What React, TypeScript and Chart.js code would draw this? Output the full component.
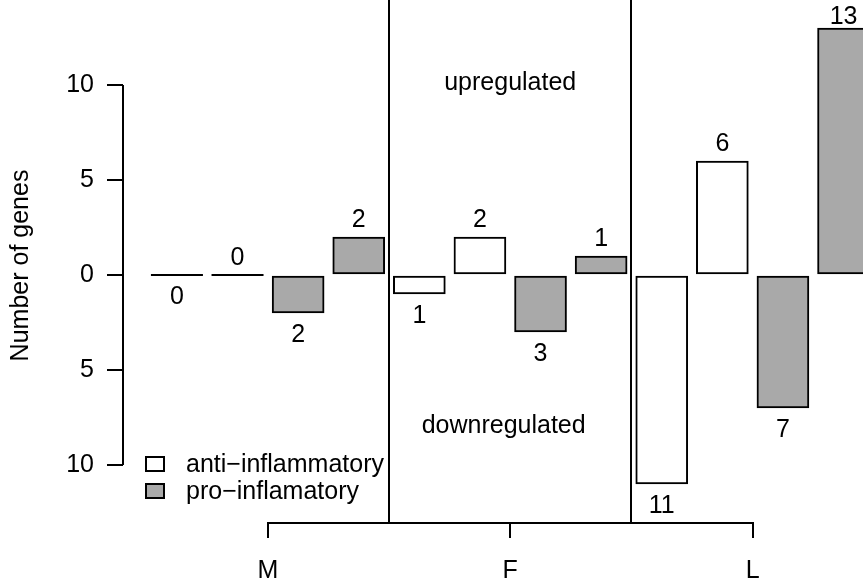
import React, { useEffect, useRef } from 'react';
import { Chart, registerables } from 'chart.js';

Chart.register(...registerables);

// ---- data ----
const groups = ['M', 'F', 'L'];
const antiDown = [0, 1, 11];
const antiUp = [0, 2, 6];
const proDown = [2, 3, 7];
const proUp = [2, 1, 13];
const yTickValues = [-10, -5, 0, 5, 10];
const legendLabels = ['anti\u2212inflammatory', 'pro\u2212inflamatory'];
const regionLabels = ['upregulated', 'downregulated'];
const yTitle = 'Number of genes';

// ---- layout helpers (R barplot coordinates: width 1, space 0.2) ----
const barPos = (g: number, j: number) => 0.7 + 1.2 * (g * 4 + j);
const groupCenter = (g: number) => (barPos(g, 0) + barPos(g, 3)) / 2;
const dividers = [1, 2].map((g) => (barPos(g - 1, 3) + barPos(g, 0)) / 2);

const FONT = '"Liberation Sans", Arial, Helvetica, sans-serif';
const FS = 25;
const WHITE = '#ffffff';
const GRAY = '#a9a9a9';

type Pt = { x: number; y: number; dir: 'up' | 'down'; lab: number };

const makeData = (down: number[], up: number[], j0: number): Pt[] => {
  const out: Pt[] = [];
  groups.forEach((_, g) => {
    out.push({ x: barPos(g, j0), y: -down[g], dir: 'down', lab: down[g] });
    out.push({ x: barPos(g, j0 + 1), y: up[g], dir: 'up', lab: up[g] });
  });
  return out;
};

const decorPlugin = {
  id: 'decor',
  afterDatasetsDraw(chart: any) {
    const { ctx, chartArea } = chart;
    const xs = chart.scales.x;
    const ys = chart.scales.y;
    ctx.save();
    ctx.strokeStyle = '#000';
    ctx.lineWidth = 2;
    // zero-height bars drawn as lines
    chart.data.datasets.forEach((ds: any, di: number) => {
      const meta = chart.getDatasetMeta(di);
      meta.data.forEach((el: any, i: number) => {
        const p = ds.data[i] as Pt;
        if (p.y === 0) {
          ctx.beginPath();
          ctx.moveTo(el.x - el.width / 2, el.y);
          ctx.lineTo(el.x + el.width / 2, el.y);
          ctx.stroke();
        }
      });
    });
    // value labels
    ctx.fillStyle = '#000';
    ctx.font = `${FS}px ${FONT}`;
    ctx.textAlign = 'center';
    ctx.textBaseline = 'alphabetic';
    chart.data.datasets.forEach((ds: any, di: number) => {
      const meta = chart.getDatasetMeta(di);
      meta.data.forEach((el: any, i: number) => {
        const p = ds.data[i] as Pt;
        const yb = p.dir === 'up' ? Math.max(el.y - 10, chartArea.top + 15) : el.y + 29;
        ctx.fillText(String(p.lab), el.x, yb);
      });
    });
    // vertical dividers
    dividers.forEach((d) => {
      const px = Math.round(xs.getPixelForValue(d));
      ctx.beginPath();
      ctx.moveTo(px, 0);
      ctx.lineTo(px, chartArea.bottom + 1);
      ctx.stroke();
    });
    // y axis line (first to last tick)
    ctx.beginPath();
    ctx.moveTo(chartArea.left, ys.getPixelForValue(yTickValues[0]));
    ctx.lineTo(chartArea.left, ys.getPixelForValue(yTickValues[yTickValues.length - 1]));
    ctx.stroke();
    // x axis line (first to last group)
    ctx.beginPath();
    ctx.moveTo(xs.getPixelForValue(groupCenter(0)), chartArea.bottom + 1);
    ctx.lineTo(xs.getPixelForValue(groupCenter(groups.length - 1)), chartArea.bottom + 1);
    ctx.stroke();
    // region labels
    ctx.textAlign = 'center';
    ctx.fillText(regionLabels[0], xs.getPixelForValue(7.3), ys.getPixelForValue(10) + 5);
    ctx.fillText(regionLabels[1], xs.getPixelForValue(7.17), ys.getPixelForValue(-8) + 6);
    // legend
    const fills = [WHITE, GRAY];
    legendLabels.forEach((t, i) => {
      const cy = 464 + i * 27;
      ctx.fillStyle = fills[i];
      ctx.fillRect(146, cy - 7, 18, 14);
      ctx.strokeRect(146, cy - 7, 18, 14);
      ctx.fillStyle = '#000';
      ctx.textAlign = 'left';
      ctx.textBaseline = 'middle';
      ctx.fillText(t, 186, cy + 1);
    });
    ctx.restore();
  },
};

export default function App() {
  const ref = useRef<HTMLCanvasElement>(null);
  useEffect(() => {
    if (!ref.current) return;
    const chart = new Chart(ref.current, {
      type: 'bar',
      data: {
        datasets: [
          {
            label: legendLabels[0],
            data: makeData(antiDown, antiUp, 0) as any,
            backgroundColor: WHITE,
            borderColor: '#000',
            borderWidth: 2,
            borderSkipped: false,
            barThickness: 52,
            grouped: false,
          } as any,
          {
            label: legendLabels[1],
            data: makeData(proDown, proUp, 2) as any,
            backgroundColor: GRAY,
            borderColor: '#000',
            borderWidth: 2,
            borderSkipped: false,
            barThickness: 52,
            grouped: false,
          } as any,
        ],
      },
      options: {
        animation: false,
        responsive: false,
        maintainAspectRatio: false,
        layout: { padding: { top: 9, left: 0, right: 0, bottom: 0 } },
        plugins: { legend: { display: false }, tooltip: { enabled: false } },
        scales: {
          x: {
            type: 'linear',
            offset: false,
            min: -0.368,
            max: -0.368 + 740 / 50.5,
            afterBuildTicks: (s: any) => {
              s.ticks = groups.map((_, g) => ({ value: groupCenter(g) }));
            },
            afterFit: (s: any) => {
              s.height = 58;
              s.paddingLeft = 0;
              s.paddingRight = 0;
              s.paddingTop = 0;
              s.paddingBottom = 0;
            },
            ticks: {
              callback: (_v: any, i: number) => groups[i],
              font: { family: FONT, size: FS },
              color: '#000',
              padding: 18,
              maxRotation: 0,
              autoSkip: false,
            },
            grid: { offset: false, drawOnChartArea: false, drawTicks: true, tickLength: 16, color: '#000', lineWidth: 2 },
            border: { display: false },
          },
          y: {
            type: 'linear',
            min: -13,
            max: 14,
            afterBuildTicks: (s: any) => {
              s.ticks = yTickValues.map((v) => ({ value: v }));
            },
            afterFit: (s: any) => {
              s.width = 123;
              s.paddingTop = 0;
              s.paddingBottom = 0;
              s.paddingLeft = 0;
              s.paddingRight = 0;
            },
            ticks: {
              callback: (v: any) => String(Math.abs(Number(v))),
              font: { family: FONT, size: FS },
              color: '#000',
              padding: 13,
            },
            grid: { drawOnChartArea: false, drawTicks: true, tickLength: 16, color: '#000', lineWidth: 2 },
            border: { display: false },
            title: {
              display: true,
              text: yTitle,
              font: { family: FONT, size: FS },
              color: '#000',
              padding: { top: 6, bottom: 0 },
            },
          },
        },
      },
      plugins: [decorPlugin],
    });
    return () => chart.destroy();
  }, []);
  return (
    <div style={{ position: 'fixed', left: 0, top: 0, width: 863, height: 580, overflow: 'hidden', background: '#fff' }}>
      <canvas ref={ref} width={863} height={580} style={{ width: 863, height: 580, display: 'block' }} />
    </div>
  );
}
